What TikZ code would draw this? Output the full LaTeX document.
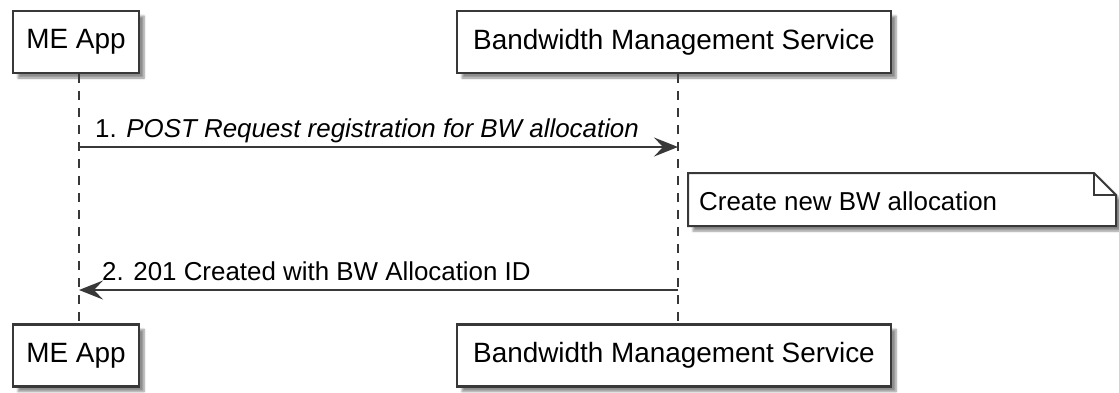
\documentclass[tikz,border=0pt]{standalone}
\usepackage{fontspec}
\setmainfont{Liberation Sans}
\usetikzlibrary{arrows.meta,shadows.blur}
\definecolor{umlline}{HTML}{383838}
\begin{document}
\begin{tikzpicture}[x=1pt,y=-1pt,
  softshadow/.style={blur shadow={shadow xshift=5pt, shadow yshift=-5pt, shadow blur steps=6, shadow opacity=45}},
  actor/.style={draw=umlline, line width=2.6pt, fill=white, rectangle, minimum height=62pt, inner sep=0pt,
    font=\fontsize{27.9}{33}\selectfont, softshadow},
  lifeline/.style={draw=umlline, line width=1.6pt, dash pattern=on 9pt off 8pt},
  msg/.style={draw=umlline, line width=2pt, -{Stealth[length=24pt,width=19pt,inset=9pt]}},
  msglabel/.style={anchor=base west, inner sep=0pt, font=\fontsize{25.9}{30}\selectfont},
  notebox/.style={draw=umlline, line width=2pt, fill=white, softshadow},
]
\useasboundingbox (0,0) rectangle (1119,392);

% lifeline columns and message rows
\coordinate (meX) at (79,0);
\coordinate (bmsX) at (678,0);
\coordinate (row1) at (0,147);
\coordinate (row2) at (0,290);

% participants (top and bottom)
\node[actor, minimum width=126pt] (meTop) at (76,42) {ME App};
\node[actor, minimum width=434pt] (bmsTop) at (674,42) {Bandwidth Management Service};
\node[actor, minimum width=126pt] (meBot) at (76,355.5) {ME App};
\node[actor, minimum width=434pt] (bmsBot) at (674,355.5) {Bandwidth Management Service};

% lifelines
\draw[lifeline] (meTop.south -| meX) -- (meBot.north -| meX);
\draw[lifeline] (bmsTop.south -| bmsX) -- (bmsBot.north -| bmsX);

% message 1
\draw[msg] (meX |- row1) -- (bmsX |- row1);
\node[msglabel] (lbl1) at (95,137) {1. \textit{POST Request registration for BW allocation}};

% note on the service
\path[notebox] (688,173) -- (1094,173) -- (1116,195) -- (1116,226) -- (688,226) -- cycle;
\draw[draw=umlline, line width=2pt] (1094,173) -- (1094,195) -- (1116,195);
\node[msglabel] (note) at (699,210) {Create new BW allocation};

% message 2
\draw[msg] (bmsX |- row2) -- (meX |- row2);
\node[msglabel] (lbl2) at (102,280) {2. 201 Created with BW Allocation ID};
\end{tikzpicture}
\end{document}
